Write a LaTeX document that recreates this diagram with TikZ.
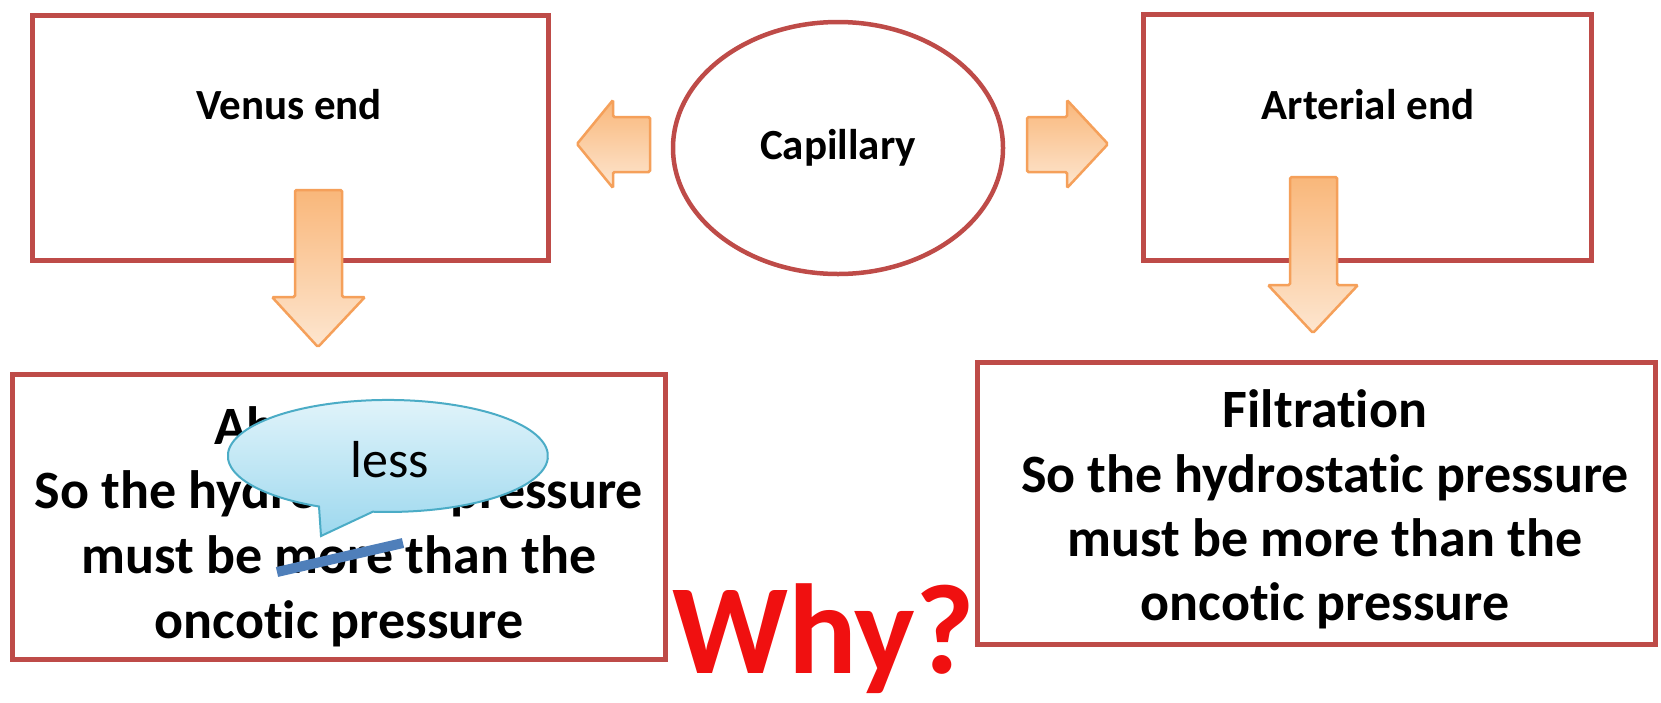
\documentclass[tikz,border=0pt]{standalone}
\usepackage{fontspec}
\setmainfont{Carlito}[Ligatures=NoCommon]
\usetikzlibrary{shapes.geometric}
\definecolor{boxred}{HTML}{BE4B48}
\definecolor{arrowedge}{HTML}{F5A05A}
\definecolor{arrowtop}{HTML}{F9B77A}
\definecolor{arrowbot}{HTML}{FDE6D0}
\definecolor{calloutedge}{HTML}{4BACC6}
\definecolor{callouttop}{HTML}{E4F5FB}
\definecolor{calloutbot}{HTML}{9DD8EE}
\definecolor{strikeblue}{HTML}{4F7FBA}
\definecolor{whyred}{HTML}{F01010}
\begin{document}
\begin{tikzpicture}[x=1pt,y=-1pt,
  box/.style={draw=boxred, line width=5pt, fill=white, inner sep=0pt},
  headtext/.style={font=\fontsize{43}{52}\selectfont\bfseries, inner sep=0pt},
  bodyline/.style={font=\fontsize{54}{65}\selectfont\bfseries, anchor=base, inner sep=0pt},
  blockarrow/.style={top color=arrowtop, bottom color=arrowbot, draw=arrowedge, line width=2.5pt, rounded corners=1.5pt},
]
\useasboundingbox (0,0) rectangle (1661,702);

% top boxes and ellipse
\node[box, minimum width=516, minimum height=245] (venus) at (290.5,138) {};
\node[headtext] (venustext) at (289,105) {Venus end};
\node[box, minimum width=448, minimum height=246] (arterial) at (1367.5,137.5) {};
\node[headtext] (arterialtext) at (1368,105) {Arterial end};
\node[ellipse, draw=boxred, line width=4.5pt, minimum width=330, minimum height=252, inner sep=0pt, headtext] (capillary) at (838,148) {Capillary};

% bottom boxes
\node[box, minimum width=653, minimum height=285] (absorb) at (339,517) {};
\node[bodyline] (a1) at (339,444) {Absorption};
\node[bodyline] (a2) at (339,508) {So the hydrostatic pressure};
\node[bodyline] (a3) at (339,573) {must be more than the};
\node[bodyline] (a4) at (339,638) {oncotic pressure};

\node[box, minimum width=678, minimum height=282] (filt) at (1316.5,503.5) {};
\node[bodyline] (f1) at (1325,427) {Filtration};
\node[bodyline] (f2) at (1325,492) {So the hydrostatic pressure};
\node[bodyline] (f3) at (1325,556) {must be more than the};
\node[bodyline] (f4) at (1325,620) {oncotic pressure};

% block arrows
\shade[blockarrow] (650,117) -- (613,117) -- (613,100) -- (577,144) -- (613,188) -- (613,172) -- (650,172) -- cycle;
\shade[blockarrow] (1027,117) -- (1067,117) -- (1067,100) -- (1108,144) -- (1067,188) -- (1067,172) -- (1027,172) -- cycle;
\shade[blockarrow] (295,190) -- (342,190) -- (342,297) -- (365,297) -- (318,347) -- (272,297) -- (295,297) -- cycle;
\shade[blockarrow] (1290,177) -- (1337,177) -- (1337,285) -- (1358,285) -- (1313,333) -- (1268,285) -- (1290,285) -- cycle;

% callout
\shade[top color=callouttop, bottom color=calloutbot, draw=calloutedge, line width=2pt]
  (319,506.5) arc[start angle=115.5, end angle=455.4, x radius=160, y radius=56] -- (321,536) -- cycle;
\node[font=\fontsize{52}{60}\selectfont, anchor=base, inner sep=0pt] (less) at (390,477) {less};

% strike line
\draw[strikeblue, line width=10pt] (277,572) -- (403,543);

% Why?
\node[anchor=base west, text=whyred, font=\fontsize{128}{128}\selectfont\bfseries, inner sep=0pt] (why) at (672,673) {Why?};
\end{tikzpicture}
\end{document}
